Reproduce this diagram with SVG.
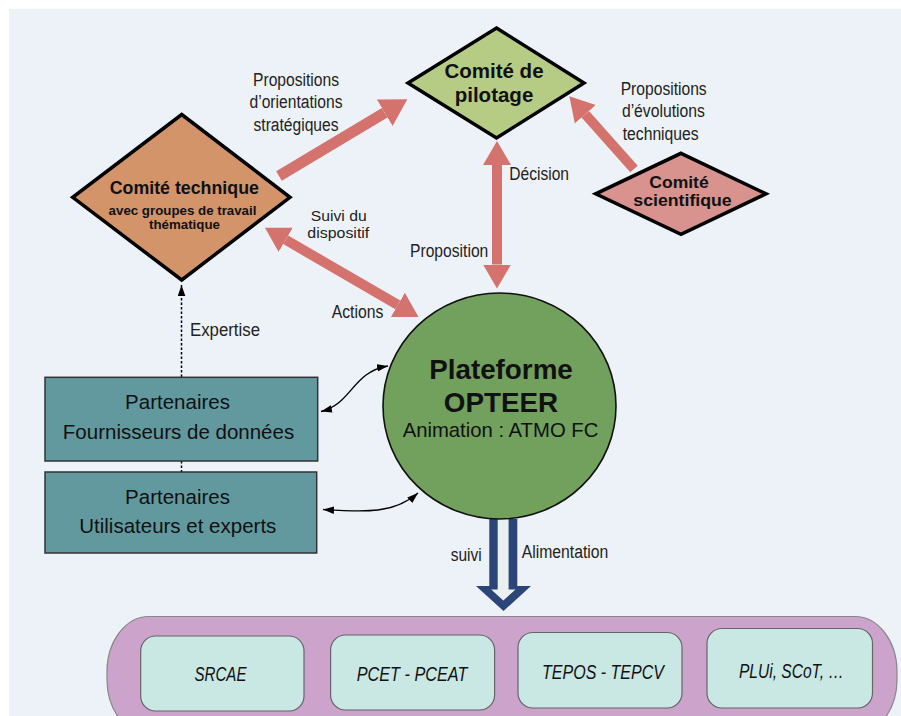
<svg xmlns="http://www.w3.org/2000/svg" width="901" height="716" viewBox="0 0 901 716">
<style>
.bg{fill:#edf2f9}
.dia{stroke:#000;stroke-width:3.5;stroke-linejoin:miter}
.red{stroke:#d4736d;fill:none}
.blk{stroke:#000;stroke-width:1.4;fill:none}
.bold{font-family:"Liberation Sans",Arial,sans-serif;font-weight:bold;fill:#111;text-anchor:middle}
.reg{font-family:"Liberation Sans",Arial,sans-serif;fill:#111;text-anchor:middle}
.lbl{font-family:"Liberation Sans",Arial,sans-serif;font-size:18px;fill:#222}
.lbl.sm{font-size:14.5px}
.it{font-family:"Liberation Sans",Arial,sans-serif;font-style:italic;font-size:21px;fill:#111;text-anchor:middle}
.part{fill:#62999f;stroke:#333;stroke-width:1.5}
.doc{fill:#c9e8e4;stroke:#666;stroke-width:1.2}
</style>
<defs>
<marker id="rh" markerUnits="strokeWidth" viewBox="0 -1.5 2.4 3" markerWidth="2.4" markerHeight="3" refX="0" refY="0" orient="auto-start-reverse">
<path d="M0,-1.4 L2.4,0 L0,1.4 z" fill="#d4736d"/>
</marker>
<marker id="bh" markerUnits="userSpaceOnUse" viewBox="0 -4 11 8" markerWidth="11" markerHeight="8" refX="11" refY="0" orient="auto-start-reverse">
<path d="M0,-3.8 L11,0 L0,3.8 z" fill="#000"/>
</marker>
</defs>
<rect class="bg" x="9" y="9" width="892" height="707"/>

<g id="connectors">
<line class="red" x1="279" y1="176" x2="384.7" y2="112.8" stroke-width="11" marker-end="url(#rh)"/>
<line class="red" x1="634" y1="169" x2="585.3" y2="114.3" stroke-width="10" marker-end="url(#rh)"/>
<line class="red" x1="497" y1="165" x2="497" y2="264.5" stroke-width="10" marker-start="url(#rh)" marker-end="url(#rh)"/>
<line class="red" x1="285.7" y1="239.8" x2="397.8" y2="304.9" stroke-width="10" marker-start="url(#rh)" marker-end="url(#rh)"/>
<line x1="181.5" y1="377" x2="181.5" y2="285" stroke="#000" stroke-width="1.5" stroke-dasharray="2.5,2" marker-end="url(#bh)"/>
<line x1="181.5" y1="461" x2="181.5" y2="472" stroke="#000" stroke-width="1.5" stroke-dasharray="2.5,2"/>
<path class="blk" d="M321,411.5 C352,404 352,372 388,366" marker-start="url(#bh)" marker-end="url(#bh)"/>
<path class="blk" d="M323,509.5 C365,512 394,514 418,493" marker-start="url(#bh)" marker-end="url(#bh)"/>
<polygon points="489.3,519 517.3,519 517.3,586 531,586 503.5,611 476,586 489.3,586" fill="#2b4578"/>
<polygon points="497.7,519 508.6,519 508.6,589.5 515.5,589.5 503.3,600.5 491.2,589.5 497.7,589.5" fill="#eaf0f0"/>
<text class="lbl" x="296" y="85.5" text-anchor="middle" textLength="86" lengthAdjust="spacingAndGlyphs">Propositions</text>
<text class="lbl" x="296" y="108.3" text-anchor="middle" textLength="93" lengthAdjust="spacingAndGlyphs">d’orientations</text>
<text class="lbl" x="296" y="131" text-anchor="middle" textLength="85" lengthAdjust="spacingAndGlyphs">stratégiques</text>
<text class="lbl" x="663.7" y="95" text-anchor="middle" textLength="86" lengthAdjust="spacingAndGlyphs">Propositions</text>
<text class="lbl" x="663.4" y="117.3" text-anchor="middle" textLength="83" lengthAdjust="spacingAndGlyphs">d’évolutions</text>
<text class="lbl" x="660.7" y="140" text-anchor="middle" textLength="76" lengthAdjust="spacingAndGlyphs">techniques</text>
<text class="lbl sm" x="338.7" y="221" text-anchor="middle" textLength="56" lengthAdjust="spacingAndGlyphs">Suivi du</text>
<text class="lbl sm" x="338.3" y="238.3" text-anchor="middle" textLength="62" lengthAdjust="spacingAndGlyphs">dispositif</text>
<text class="lbl" x="509.3" y="180" textLength="59.7" lengthAdjust="spacingAndGlyphs">Décision</text>
<text class="lbl" x="410" y="256.7" textLength="78.3" lengthAdjust="spacingAndGlyphs">Proposition</text>
<text class="lbl" x="331.7" y="318.3" textLength="51.6" lengthAdjust="spacingAndGlyphs">Actions</text>
<text class="lbl" x="190" y="336" textLength="70" lengthAdjust="spacingAndGlyphs">Expertise</text>
<text class="lbl" x="450.7" y="561" textLength="31" lengthAdjust="spacingAndGlyphs">suivi</text>
<text class="lbl" x="521.7" y="558.3" textLength="86.6" lengthAdjust="spacingAndGlyphs">Alimentation</text>
</g>

<g id="comite-pilotage">
<polygon class="dia" points="496.5,28 584,83 496.5,138 408,83" fill="#b6cc84"/>
<text class="bold" x="494" y="78" font-size="20.5">Comité de</text>
<text class="bold" x="494" y="101.7" font-size="20.5">pilotage</text>
</g>

<g id="comite-technique">
<polygon class="dia" points="181.7,114.5 290,197.3 181.7,280 72.7,197.3" fill="#d4946a"/>
<text class="bold" x="184.3" y="194.3" font-size="17.8">Comité technique</text>
<text class="bold" x="182.5" y="215" font-size="13.3">avec groupes de travail</text>
<text class="bold" x="184.5" y="229.3" font-size="13.3">thématique</text>
</g>

<g id="comite-scientifique">
<polygon class="dia" points="681,153.3 766,193.8 681,234.3 595.7,193.8" fill="#d9938f"/>
<text class="bold" x="679" y="188" font-size="16.5" textLength="59.4" lengthAdjust="spacingAndGlyphs">Comité</text>
<text class="bold" x="682.5" y="206" font-size="16.5" textLength="98.4" lengthAdjust="spacingAndGlyphs">scientifique</text>
</g>

<g id="plateforme">
<ellipse cx="499.5" cy="406" rx="116.5" ry="113" fill="#72a05d" stroke="#111" stroke-width="1.6"/>
<text class="bold" x="501" y="378.7" font-size="27.8">Plateforme</text>
<text class="bold" x="501" y="411.7" font-size="27.8">OPTEER</text>
<text class="reg" x="500.5" y="436.7" font-size="20.3">Animation : ATMO FC</text>
</g>

<g id="partenaires-fournisseurs">
<rect class="part" x="45" y="377.3" width="272.7" height="83.7"/>
<text class="reg" x="177.5" y="409.3" font-size="20.5">Partenaires</text>
<text class="reg" x="178.5" y="439.3" font-size="20.5">Fournisseurs de données</text>
</g>

<g id="partenaires-utilisateurs">
<rect class="part" x="45" y="472" width="271.7" height="81"/>
<text class="reg" x="177.5" y="504" font-size="20.5">Partenaires</text>
<text class="reg" x="177.8" y="533.3" font-size="20.5">Utilisateurs et experts</text>
</g>

<g id="documents">
<rect x="107" y="616.5" width="790" height="118" rx="42" ry="55" fill="#cba3cb" stroke="#888" stroke-width="1.2"/>
<g id="srcae">
<rect class="doc" x="140.7" y="636" width="163.3" height="75" rx="15"/>
<text class="it" x="220.5" y="681" textLength="52" lengthAdjust="spacingAndGlyphs">SRCAE</text>
</g>
<g id="pcet">
<rect class="doc" x="330.6" y="635" width="164" height="75" rx="15"/>
<text class="it" x="412" y="681" textLength="110.7" lengthAdjust="spacingAndGlyphs">PCET  - PCEAT</text>
</g>
<g id="tepos">
<rect class="doc" x="518" y="632.5" width="164" height="75.5" rx="15"/>
<text class="it" x="603" y="679" textLength="121.8" lengthAdjust="spacingAndGlyphs">TEPOS - TEPCV</text>
</g>
<g id="plui">
<rect class="doc" x="707" y="628.5" width="165.5" height="79.5" rx="15"/>
<text class="it" x="791.4" y="677.5" textLength="105" lengthAdjust="spacingAndGlyphs">PLUi, SCoT, …</text>
</g>
</g>
</svg>
